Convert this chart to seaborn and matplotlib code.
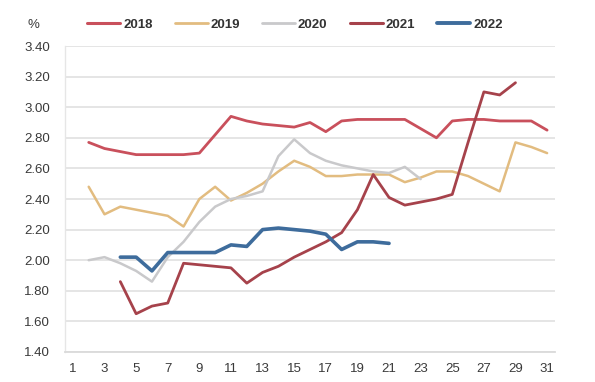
import numpy as np
import pandas as pd
import matplotlib
matplotlib.use("Agg")
import matplotlib.pyplot as plt
from matplotlib.lines import Line2D
from matplotlib.ticker import MultipleLocator
import seaborn as sns

# Daily rate (%) by day of month, one series per year
days_2018 = list(range(2, 32))
rate_2018 = [2.77, 2.73, 2.71, 2.69, 2.69, 2.69, 2.69, 2.70, 2.82, 2.94,
             2.91, 2.89, 2.88, 2.87, 2.90, 2.84, 2.91, 2.92, 2.92, 2.92,
             2.92, 2.86, 2.80, 2.91, 2.92, 2.92, 2.91, 2.91, 2.91, 2.85]

days_2019 = list(range(2, 32))
rate_2019 = [2.48, 2.30, 2.35, 2.33, 2.31, 2.29, 2.22, 2.40, 2.48, 2.39,
             2.44, 2.50, 2.58, 2.65, 2.61, 2.55, 2.55, 2.56, 2.56, 2.56,
             2.51, 2.54, 2.58, 2.58, 2.55, 2.50, 2.45, 2.77, 2.74, 2.70]

days_2020 = list(range(2, 24))
rate_2020 = [2.00, 2.02, 1.98, 1.93, 1.86, 2.02, 2.12, 2.25, 2.35, 2.40,
             2.42, 2.45, 2.68, 2.79, 2.70, 2.65, 2.62, 2.60, 2.58, 2.57,
             2.61, 2.53]

days_2021 = list(range(4, 30))
rate_2021 = [1.86, 1.65, 1.70, 1.72, 1.98, 1.97, 1.96, 1.95, 1.85, 1.92,
             1.96, 2.02, 2.07, 2.12, 2.18, 2.33, 2.56, 2.41, 2.36, 2.38,
             2.40, 2.43, 2.77, 3.10, 3.08, 3.16]

days_2022 = list(range(4, 22))
rate_2022 = [2.02, 2.02, 1.93, 2.05, 2.05, 2.05, 2.05, 2.10, 2.09, 2.20,
             2.21, 2.20, 2.19, 2.17, 2.07, 2.12, 2.12, 2.11]

years = ["2018", "2019", "2020", "2021", "2022"]
series = {
    "2018": (days_2018, rate_2018),
    "2019": (days_2019, rate_2019),
    "2020": (days_2020, rate_2020),
    "2021": (days_2021, rate_2021),
    "2022": (days_2022, rate_2022),
}
colors = {
    "2018": "#C9505C",
    "2019": "#E2BC80",
    "2020": "#C9C9CB",
    "2021": "#A6424B",
    "2022": "#3E6C9C",
}
widths = {"2018": 2.0, "2019": 1.8, "2020": 1.8, "2021": 2.0, "2022": 2.6}

x_ticks = list(range(1, 32, 2))
y_ticks = [1.40, 1.60, 1.80, 2.00, 2.20, 2.40, 2.60, 2.80, 3.00, 3.20, 3.40]

frames = []
for yr in years:
    d, v = series[yr]
    frames.append(pd.DataFrame({"day": d, "rate": v, "year": yr}))
df = pd.concat(frames, ignore_index=True)

sns.set_theme(style="white")
plt.rcParams["font.family"] = ["Liberation Sans", "DejaVu Sans"]

fig = plt.figure(figsize=(5.95, 3.82), dpi=100)
ax = fig.add_axes([65 / 595, 1 - 352 / 382, 490 / 595, 306 / 382])

for yr in years:
    sub = df[df["year"] == yr]
    sns.lineplot(data=sub, x="day", y="rate", ax=ax, color=colors[yr],
                 linewidth=widths[yr], legend=False, zorder=3)

ax.set_xlim(0.5, 31.5)
ax.set_ylim(1.40, 3.40)
ax.set_xticks(x_ticks)
ax.set_xticklabels([str(t) for t in x_ticks])
ax.xaxis.set_minor_locator(MultipleLocator(1))
ax.set_yticks(y_ticks)
ax.set_yticklabels([f"{t:.2f}" for t in y_ticks])
ax.set_xlabel("")
ax.set_ylabel("")

ax.grid(axis="y", color="#E3E3E3", linewidth=1.3, zorder=0)
ax.grid(axis="x", visible=False)
for side in ["top", "right"]:
    ax.spines[side].set_visible(False)
ax.spines["left"].set_color("#E6E6E6")
ax.spines["bottom"].set_color("#DADADA")
ax.spines["left"].set_linewidth(1.0)
ax.spines["bottom"].set_linewidth(1.3)

ax.tick_params(axis="y", length=0, pad=11, labelsize=9.5, labelcolor="#3A3A3A")
ax.tick_params(axis="x", which="major", length=0, pad=8, labelsize=9.5,
               labelcolor="#3A3A3A")
ax.tick_params(axis="x", which="minor", length=3, width=1.0, color="#DADADA",
               direction="inout")

fig.text(33 / 595, 1 - 25 / 382, "%", ha="center", va="center",
         fontsize=9.5, color="#3A3A3A")

handles = [Line2D([0], [0], color=colors[yr], linewidth=widths[yr] + 0.2)
           for yr in years]
leg = fig.legend(handles, years, loc="center", ncol=5,
                 bbox_to_anchor=(295 / 595, 1 - 25 / 382), frameon=False,
                 handlelength=2.5, handletextpad=0.2, columnspacing=1.7,
                 prop={"size": 9.5, "weight": "bold"})
for t in leg.get_texts():
    t.set_color("#333333")

fig.savefig("out.png", dpi=100, facecolor="white")
